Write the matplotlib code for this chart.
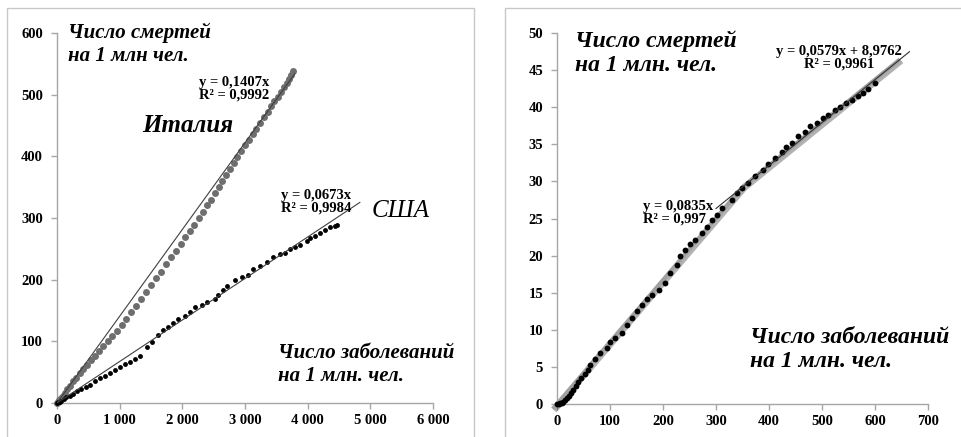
import matplotlib
matplotlib.use('Agg')
import matplotlib.pyplot as plt
import matplotlib.patheffects as pe
from matplotlib.patches import Rectangle
from matplotlib.ticker import FuncFormatter, MultipleLocator

plt.rcParams['font.family'] = ['Liberation Serif', 'DejaVu Serif']
plt.rcParams['font.weight'] = 'bold'

# Italy: cases vs deaths per 1 mln
italy_cases = [0, 15, 35, 60, 90, 125, 165, 210, 260, 310, 365, 420, 480, 540, 605, 670,
               740, 810, 880, 955, 1030, 1105, 1180, 1260, 1340, 1420, 1500, 1580, 1660,
               1740, 1820, 1900, 1975, 2050, 2120, 2190, 2260, 2330, 2400, 2460, 2520,
               2580, 2640, 2700, 2760, 2820, 2880, 2940, 3000, 3060, 3120, 3180, 3240,
               3300, 3360, 3420, 3470, 3520, 3570, 3620, 3665, 3705, 3740, 3769]
italy_deaths = [0, 2, 5, 8, 12, 17, 22, 28, 35, 41, 48, 55, 62, 69, 77, 84,
                92, 100, 108, 117, 127, 137, 147, 158, 169, 180, 191, 202, 213,
                225, 236, 247, 258, 269, 279, 289, 300, 310, 321, 330, 340,
                350, 360, 370, 380, 389, 399, 409, 418, 427, 436, 445, 454,
                463, 472, 481, 489, 496, 504, 512, 519, 526, 532, 538]

# USA
usa_cases = [0, 15, 40, 70, 110, 150, 200, 260, 320, 390, 460, 526, 606, 686, 766, 845,
             925, 1005, 1085, 1164, 1244, 1324, 1430, 1510, 1616, 1696, 1776, 1855, 1935,
             2042, 2121, 2201, 2307, 2387, 2520, 2573, 2653, 2706, 2839, 2946, 3051, 3131,
             3238, 3344, 3450, 3557, 3637, 3716, 3796, 3876, 3982, 4035, 4115, 4195, 4275,
             4354, 4434, 4470]
usa_deaths = [0, 1, 2, 4, 6, 9, 12, 15, 19, 23, 26, 29, 35, 40, 44, 49,
              54, 59, 63, 67, 72, 76, 91, 99, 110, 118, 124, 130, 136,
              141, 148, 155, 159, 164, 168, 175, 183, 190, 199, 204, 208, 217,
              222, 229, 236, 242, 244, 249, 253, 257, 263, 267, 271, 276, 280,
              285, 287, 289]

# Russia
rus_cases = [0, 3, 6, 9, 12, 15, 18, 22, 26, 30, 35, 40, 46, 52, 58, 63, 72, 82, 94,
             100, 110, 122, 132, 141, 151, 160, 170, 179, 192, 204, 213, 226, 232, 242,
             251, 261, 273, 283, 292, 301, 311, 330, 339, 349, 361, 374, 389, 399, 411,
             424, 433, 443, 455, 468, 477, 490, 502, 512, 524, 534, 546, 556, 568, 578,
             587, 600]
rus_deaths = [0, 0, 0.1, 0.2, 0.3, 0.5, 0.8, 1.1, 1.5, 1.9, 2.4, 2.9, 3.5, 4.0, 4.6, 5.3,
              6.0, 6.9, 7.5, 8.4, 8.9, 9.6, 10.7, 11.6, 12.5, 13.4, 14.1, 14.7, 15.4, 16.3,
              17.7, 18.8, 19.9, 20.8, 21.5, 22.1, 23.0, 23.9, 24.8, 25.5, 26.4, 27.5, 28.4,
              29.1, 29.8, 30.7, 31.6, 32.3, 33.2, 34.0, 34.6, 35.2, 36.1, 36.7, 37.4, 37.9,
              38.5, 39.0, 39.6, 40.0, 40.6, 41.0, 41.5, 41.9, 42.4, 43.3]

# trend lines: slope, intercept, x range
italy_fit = (0.1407, 0.0, 0, 3796)
usa_fit = (0.0673, 0.0, 0, 4833)
rus_fit1 = (0.0835, 0.0, -8, 350)
rus_fit2 = (0.0579, 8.9762, 300, 665)

GRID = '#a6a6a6'


def space_thousands(v, pos):
    return '{:,.0f}'.format(v).replace(',', '\u00a0')


def style_axes(ax):
    for side in ('top', 'right'):
        ax.spines[side].set_visible(False)
    for side in ('left', 'bottom'):
        ax.spines[side].set_color(GRID)
        ax.spines[side].set_linewidth(1.0)
    ax.tick_params(colors=GRID, length=4, width=1, direction='out', labelcolor='black',
                   labelsize=10.5)
    ax.tick_params(axis='y', pad=6)
    ax.tick_params(axis='x', pad=4)


def trend(ax, fit, **kw):
    k, b, x0, x1 = fit
    ax.plot([x0, x1], [k * x0 + b, k * x1 + b], **kw)


fig = plt.figure(figsize=(9.61, 4.37), dpi=100)
W, H = 961.0, 437.0
title = dict(fontweight='bold', fontstyle='italic', va='top', ha='left')
eq = dict(fontsize=10.5, fontweight='bold', va='center', linespacing=1.0)

# panel frames
fig.add_artist(Rectangle((7 / W, -0.05), 467 / W, 1.05 - 8 / H, transform=fig.transFigure,
                         fill=False, edgecolor='#c8c8c8', lw=1))
fig.add_artist(Rectangle((505 / W, -0.05), 0.6, 1.05 - 8 / H, transform=fig.transFigure,
                         fill=False, edgecolor='#c8c8c8', lw=1))

# left panel: Italy and USA
ax1 = fig.add_axes([57 / W, 34 / H, 376 / W, 370 / H])
ax1.set_xlim(0, 6000)
ax1.set_ylim(0, 600)
ax1.xaxis.set_major_locator(MultipleLocator(1000))
ax1.yaxis.set_major_locator(MultipleLocator(100))
ax1.xaxis.set_major_formatter(FuncFormatter(space_thousands))
ax1.plot(italy_cases, italy_deaths, 'o', color='#6e6e6e', ms=5, mec='none', zorder=3,
         clip_on=False)
ax1.plot(usa_cases, usa_deaths, 'o', color='black', ms=3.5, mec='none', zorder=3,
         clip_on=False)
trend(ax1, italy_fit, color='#404040', lw=0.8, zorder=4)
trend(ax1, usa_fit, color='#404040', lw=0.8, zorder=4)
style_axes(ax1)

fig.text(68 / W, 1 - 23 / H, 'Число смертей\nна 1 млн чел.', fontsize=15,
         linespacing=1.2, **title)
fig.text(278 / W, 1 - 343 / H, 'Число заболеваний\nна 1 млн. чел.', fontsize=15,
         linespacing=1.2, **title)
fig.text(188 / W, 1 - 125 / H, 'Италия', fontsize=18, fontweight='bold',
         fontstyle='italic', ha='center', va='center')
fig.text(401 / W, 1 - 211 / H, 'США', fontsize=18, fontweight='normal',
         fontstyle='italic', ha='center', va='center')
fig.text(234 / W, 1 - 89 / H, 'y = 0,1407x\nR² = 0,9992', ha='center', **eq)
fig.text(316 / W, 1 - 202 / H, 'y = 0,0673x\nR² = 0,9984', ha='center', **eq)

# right panel: Russia
ax2 = fig.add_axes([557 / W, 33 / H, 371 / W, 371 / H])
ax2.set_xlim(0, 700)
ax2.set_ylim(0, 50)
ax2.xaxis.set_major_locator(MultipleLocator(100))
ax2.yaxis.set_major_locator(MultipleLocator(5))
shadow = [pe.SimpleLineShadow(offset=(1.5, -1.5), shadow_color='black', alpha=0.3),
          pe.Normal()]
trend(ax2, rus_fit1, color='#a0a0a0', lw=3, zorder=3, clip_on=False,
      solid_capstyle='butt', path_effects=shadow)
trend(ax2, (rus_fit2[0], rus_fit2[1], 350, 647), color='#a0a0a0', lw=3, zorder=3,
      solid_capstyle='butt', path_effects=shadow)
ax2.plot(rus_cases, rus_deaths, 'o', color='black', ms=4.2, mec='none', zorder=4,
         clip_on=False)
trend(ax2, rus_fit2, color='#303030', lw=0.8, zorder=5)
style_axes(ax2)

fig.text(575 / W, 1 - 30 / H, 'Число смертей\nна 1 млн. чел.', fontsize=17,
         linespacing=1.2, **title)
fig.text(750 / W, 1 - 327 / H, 'Число заболеваний\nна 1 млн. чел.', fontsize=17,
         linespacing=1.2, **title)
fig.text(839 / W, 1 - 58 / H, 'y = 0,0579x + 8,9762\nR² = 0,9961', ha='center', **eq)
fig.text(643 / W, 1 - 213 / H, 'y = 0,0835x\nR² = 0,997', ha='left', zorder=1, **eq)

fig.savefig('out.png', dpi=100)
